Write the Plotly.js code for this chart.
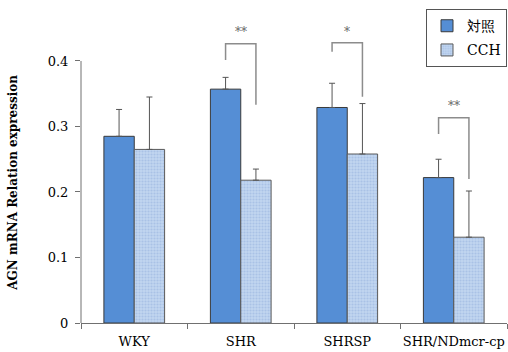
<!DOCTYPE html>
<html><head><meta charset="utf-8">
<script src="https://cdn.plot.ly/plotly-3.0.1.min.js"></script>
<style>html,body{margin:0;padding:0;background:#fff}#c{width:508px;height:352px}</style>
</head><body><div id="c"></div>
<script>
const categories = ['WKY', 'SHR', 'SHRSP', 'SHR/NDmcr-cp'];
const seriesNames = ['対照', 'CCH'];
const controlValues = [0.285, 0.357, 0.329, 0.222];
const controlErrTop = [0.326, 0.375, 0.366, 0.250];
const cchValues = [0.265, 0.218, 0.258, 0.131];
const cchErrTop = [0.345, 0.235, 0.335, 0.2015];
const yTickVals = [0, 0.1, 0.2, 0.3, 0.4];
const yTickText = ['0', '0.1', '0.2', '0.3', '0.4'];
// significance brackets: [categoryIndex, topY, leftBottomY, rightBottomY, label, labelY]
const brackets = [
  [1, 0.4264, 0.4015, 0.333, '**', 0.444],
  [2, 0.428, 0.414, 0.3455, '*', 0.445],
  [3, 0.3134, 0.2885, 0.22, '**', 0.331]
];

const serif = 'DejaVu Serif, serif';
const bargap = 0.43;
const half = (1 - bargap) / 4;
const yMax = 0.4702;

const traces = [
  {type: 'bar', name: seriesNames[0], x: categories, y: controlValues,
   marker: {color: '#558ED5', line: {color: '#3a3a3a', width: 1}},
   error_y: {type: 'data', symmetric: false,
     array: controlErrTop.map((e, i) => e - controlValues[i]), arrayminus: controlValues.map(() => 0),
     color: '#555555', thickness: 1, width: 3},
   legendgroup: 'a'},
  {type: 'bar', name: seriesNames[1], x: categories, y: cchValues,
   marker: {color: '#B8CFEE', line: {color: '#5a5a5a', width: 1},
     pattern: {shape: '.', fgcolor: '#A9C2E6', bgcolor: '#C2D6F0', size: 3, solidity: 0.4}},
   error_y: {type: 'data', symmetric: false,
     array: cchErrTop.map((e, i) => e - cchValues[i]), arrayminus: cchValues.map(() => 0),
     color: '#555555', thickness: 1, width: 3},
   legendgroup: 'b'}
];

const shapes = [
  {type: 'line', xref: 'paper', yref: 'paper', x0: 0, x1: 0, y0: 0, y1: 0.4 / yMax,
   line: {color: '#707070', width: 1}}
];
const annotations = [
  {text: 'AGN mRNA Relation expression', xref: 'paper', yref: 'paper', x: -0.16, y: 0.455,
   textangle: -90, showarrow: false, xanchor: 'center', yanchor: 'middle',
   font: {family: serif, size: 12, color: '#000', weight: 'bold'}}
];
brackets.forEach(b => {
  const xl = b[0] - half, xr = b[0] + half;
  shapes.push({type: 'path', xref: 'x', yref: 'y',
    path: `M ${xl},${b[2]} L ${xl},${b[1]} L ${xr},${b[1]} L ${xr},${b[3]}`,
    line: {color: '#8c8c8c', width: 1.5}});
  annotations.push({text: b[4], xref: 'x', yref: 'y', x: b[0], y: b[5], showarrow: false,
    font: {family: serif, size: 12, color: '#666666'}});
});

const layout = {
  width: 508, height: 352,
  margin: {l: 81, r: 1, t: 15, b: 29},
  paper_bgcolor: '#fff', plot_bgcolor: '#fff',
  barmode: 'group', bargap: bargap, bargroupgap: 0,
  showlegend: true,
  legend: {x: 1, y: 1.019, xanchor: 'right', yanchor: 'top',
    bgcolor: '#fff', bordercolor: '#555', borderwidth: 1,
    font: {family: serif, size: 14, color: '#000'},
    traceorder: 'grouped', tracegroupgap: 3, itemwidth: 30},
  xaxis: {type: 'category', range: [-0.5, 3.5], showline: true, linecolor: '#707070', linewidth: 1,
    ticks: 'outside', tickson: 'boundaries', ticklen: 5, tickcolor: '#707070',
    ticklabelstandoff: 6, tickangle: 0, automargin: false,
    tickfont: {family: serif, size: 13, color: '#000'}, showgrid: false, zeroline: false},
  yaxis: {range: [0, yMax], showline: false, tickvals: yTickVals, ticktext: yTickText,
    ticks: 'outside', ticklen: 5, tickcolor: '#707070', ticklabelstandoff: 4,
    tickfont: {family: serif, size: 13, color: '#000'}, showgrid: false, zeroline: false},
  shapes: shapes,
  annotations: annotations
};
Plotly.newPlot('c', traces, layout, {displayModeBar: false, staticPlot: true});
</script></body></html>
